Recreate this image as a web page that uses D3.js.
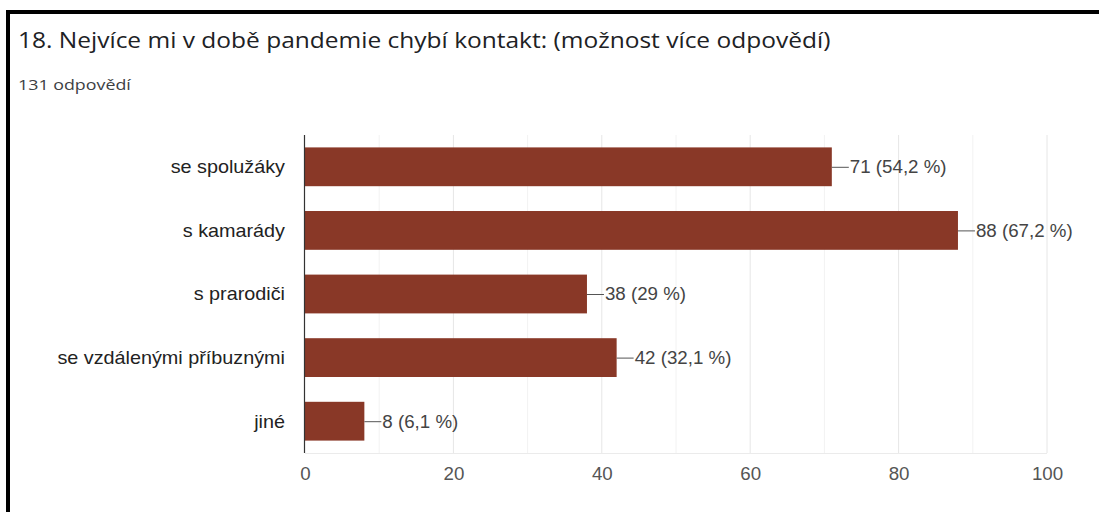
<!DOCTYPE html>
<html><head><meta charset="utf-8">
<script src="https://cdn.jsdelivr.net/npm/d3@7"></script>
<style>
html,body{margin:0;padding:0;background:#fff;}
svg{display:block;}
</style></head>
<body>
<svg id="c" width="1099" height="512"></svg>
<script>
const title = "18. Nejvíce mi v době pandemie chybí kontakt: (možnost více odpovědí)";
const subtitle = "131 odpovědí";
const categories = ["se spolužáky", "s kamarády", "s prarodiči", "se vzdálenými příbuznými", "jiné"];
const counts = [71, 88, 38, 42, 8];
const percents = ["54,2", "67,2", "29", "32,1", "6,1"];
const tickValues = [0, 20, 40, 60, 80, 100];
const minorTicks = [10, 30, 50, 70, 90];

const svg = d3.select("#c");
svg.append("rect").attr("x", 6).attr("y", 10).attr("width", 1093).attr("height", 4).attr("fill", "#000");
svg.append("rect").attr("x", 6).attr("y", 10).attr("width", 4).attr("height", 502).attr("fill", "#000");

function stretched(sel, px, py, sx) {
  return sel.append("text").attr("transform", `translate(${px},${py}) scale(${sx},1)`);
}

stretched(svg, 18, 48, 1.14)
  .attr("font-family", "'Open Sans', Roboto, sans-serif").attr("font-size", 21.5)
  .attr("fill", "#202124").text(title);
stretched(svg, 18, 90, 1.19)
  .attr("font-family", "'Open Sans', Roboto, sans-serif").attr("font-size", 15)
  .attr("fill", "#3c4043").text(subtitle);

const x = d3.scaleLinear().domain([0, 100]).range([305, 1047]);
const y = d3.scaleBand().domain(categories).range([135, 453]).paddingInner(0.39).paddingOuter(0.195);

const g = svg.append("g");
g.selectAll(".minor").data(minorTicks).join("line")
  .attr("x1", d => x(d)).attr("x2", d => x(d)).attr("y1", 135).attr("y2", 453)
  .attr("stroke", "#f2f2f2").attr("stroke-width", 1);
g.selectAll(".major").data(tickValues.slice(1)).join("line")
  .attr("x1", d => x(d)).attr("x2", d => x(d)).attr("y1", 135).attr("y2", 453)
  .attr("stroke", "#e6e6e6").attr("stroke-width", 1);
g.append("line").attr("x1", x(0)).attr("x2", x(100)).attr("y1", 453.5).attr("y2", 453.5)
  .attr("stroke", "#ebebeb");

g.selectAll(".bar").data(counts).join("rect")
  .attr("x", x(0)).attr("y", (d, i) => y(categories[i]))
  .attr("width", d => x(d) - x(0)).attr("height", y.bandwidth())
  .attr("fill", "#893827");

g.append("line").attr("x1", x(0) - 0.5).attr("x2", x(0) - 0.5).attr("y1", 135).attr("y2", 453)
  .attr("stroke", "#333").attr("stroke-width", 1.2);

const font = "'Liberation Sans', Arial, sans-serif";
counts.forEach((d, i) => {
  const cy = y(categories[i]) + y.bandwidth() / 2;
  g.append("line").attr("x1", x(d)).attr("x2", x(d) + 17).attr("y1", cy + 0.5).attr("y2", cy + 0.5)
    .attr("stroke", "#555").attr("stroke-width", 1);
  stretched(g, x(d) + 18, cy, 1.04).attr("dy", "0.35em")
    .attr("font-family", font).attr("font-size", 18)
    .attr("fill", "#444").text(`${d} (${percents[i]} %)`);
});

categories.forEach(c => {
  stretched(g, 285, y(c) + y.bandwidth() / 2, 1.1).attr("dy", "0.35em")
    .attr("text-anchor", "end")
    .attr("font-family", font).attr("font-size", 18)
    .attr("fill", "#222").text(c);
});

const axis = d3.axisBottom(x).tickValues(tickValues).tickSize(0).tickPadding(0);
const ax = svg.append("g").attr("transform", "translate(0,467)").call(axis);
ax.select(".domain").remove();
ax.selectAll(".tick text").attr("font-family", font)
  .attr("font-size", 18).attr("fill", "#555").attr("dy", "0.71em")
  .attr("transform", "scale(1.04,1)");
</script>
</body></html>
